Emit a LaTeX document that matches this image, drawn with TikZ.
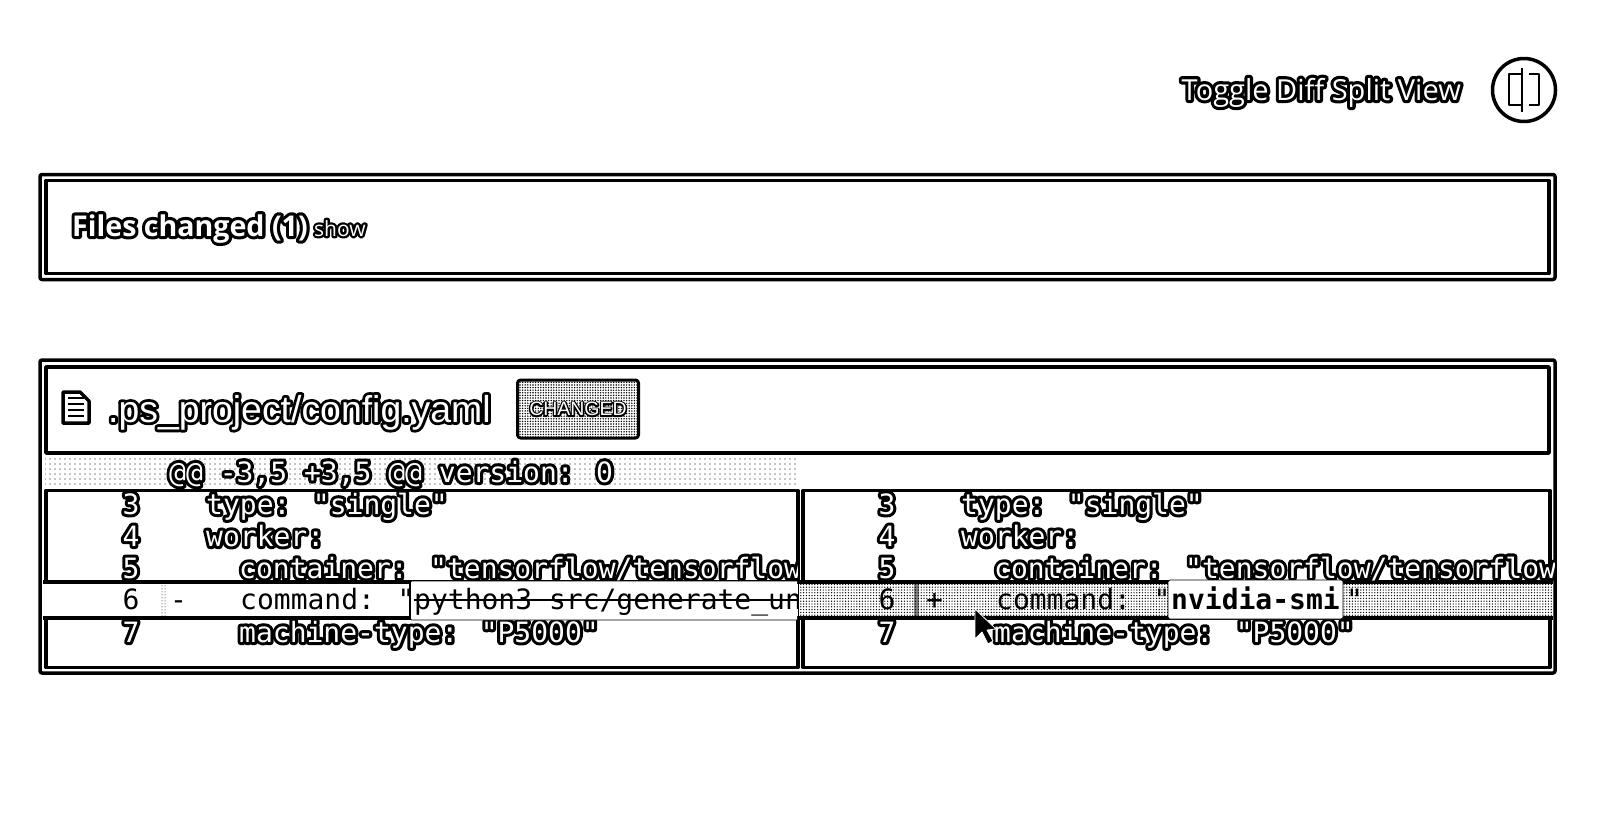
\documentclass[tikz,border=0pt]{standalone}
\usepackage{fontspec}
\usetikzlibrary{patterns.meta,positioning}
\setmainfont{Open Sans}
\newfontfamily\yamlfont{DejaVu Sans Mono}
\newfontfamily\pathfont{Liberation Sans}
\newfontfamily\yamlhalo[FakeBold=22]{DejaVu Sans Mono}
\newfontfamily\pathhalo[FakeBold=15]{Liberation Sans}
\newfontfamily\mainhalo[FakeBold=22]{Open Sans}
\newcommand{\halo}[2]{\makebox[0pt][l]{#1\textcolor{black}{#2}}\textcolor{white}{#2}}
\newcommand{\pxfont}[1]{\fontsize{#1}{#1}\selectfont}

\begin{document}
\begin{tikzpicture}[x=1pt,y=-1pt,line join=round,
    outerbox/.style={rectangle,draw=black,line width=3.5pt,fill=white,rounded corners=2pt,
                     inner sep=0pt,outer sep=0pt},
    innerbox/.style={rectangle,draw=black,line width=3.5pt,inner sep=0pt,outer sep=0pt},
    band/.style={rectangle,draw=none,inner sep=0pt,outer sep=0pt},
    rule/.style={rectangle,fill=black,inner sep=0pt,outer sep=0pt},
    code/.style={font=\yamlfont\pxfont{28},anchor=base west,inner sep=0pt},
    lineno/.style={font=\yamlfont\pxfont{28},anchor=base,inner sep=0pt},
    chip/.style={rectangle,draw=black,line width=.8pt,fill=white,rounded corners=2pt,
                 inner sep=0pt,outer sep=0pt}]

    \useasboundingbox (0,0) rectangle (1610,814);

    % Toggle
    \node[font=\pxfont{29},anchor=base east,inner sep=0pt] (toggleLbl) at (1461,100)
      {\halo{\mainhalo}{Toggle Diff Split View}};
    \node[circle,draw=black,line width=3.5pt,minimum size=63pt,inner sep=0pt] (toggleBtn) at (1524,90) {};
    \draw[line width=1.2pt] (1521,74) -| (1509,105) -- (1521,105);
    \draw[line width=1.2pt] (1529,74) -| (1539,105) -- (1529,105);
    \draw[line width=1.4pt] (toggleBtn.center) ++(-2,-22) -- ++(0,44);

    % Files changed
    \node[outerbox,minimum width=1515pt,minimum height=105pt] (filesOuter) at (797.5,227) {};
    \node[innerbox,minimum width=1503pt,minimum height=93pt] (filesInner) at (filesOuter.center) {};
    \node[font=\bfseries\pxfont{28.6},anchor=base west,inner sep=0pt] (filesLbl) at (72,236)
      {\halo{\mainhalo\bfseries}{Files changed (1)}};
    \node[font=\pxfont{21},inner sep=0pt,right=6pt of filesLbl.base east,anchor=base west] (showLbl)
      {\halo{\mainhalo}{show}};

    % Diff panel
    \node[outerbox,minimum width=1515pt,minimum height=313pt] (diffOuter) at (797.5,516.5) {};
    \node[innerbox,minimum width=1503pt,minimum height=86pt,anchor=north] (headInner) at (797.5,367) {};
    \node[font=\pathfont\pxfont{37.4},anchor=base west,inner sep=0pt] (pathLbl) at (108,422)
      {\halo{\pathhalo}{.ps\_project/config.yaml}};
    \node[rectangle,draw=black,line width=3pt,rounded corners=3pt,minimum width=121pt,minimum height=58pt,
          pattern={Dots[distance=2.6pt,radius=.8pt]},inner sep=0pt] (changedTag) at (578,409) {};
    \node[font=\pathfont\pxfont{19.5},inner sep=0pt] (changedLbl) at (578,409)
      {\halo{\pathhalo}{CHANGED}};

    % file icon
    \draw[line width=3.5pt,fill=white] (63,392) -- (80,392) -- (89,401) -- (89,423) -- (63,423) -- cycle;
    \foreach \y in {398,404,410,416} {
      \draw[line width=2.2pt] (68,\y) -- (84,\y);
    }

    % hunk header
    \node[band,pattern={Dots[distance=5pt,radius=.6pt]},minimum width=753pt,minimum height=29pt] (hunkBand) at (421.5,473) {};
    \node[code] (hunkLbl) at (169,482) {\halo{\yamlhalo}{@@ -3,5 +3,5 @@ version: 0}};

    % panes
    \node[innerbox,minimum width=752pt,minimum height=177pt,anchor=north west] (paneL) at (46,490.5) {};
    \node[innerbox,minimum width=747pt,minimum height=177pt,anchor=north west] (paneR) at (803,490.5) {};

    % row 6 bands
    \node[rule,minimum width=755pt,minimum height=40pt,anchor=north west] (rowLrule) at (43,580) {};
    \node[rule,minimum width=754pt,minimum height=40pt,anchor=north west] (rowRrule) at (799,580) {};
    \node[band,fill=white,minimum width=755pt,minimum height=32pt,anchor=north west] (rowLband) at (43,584) {};
    \node[band,fill=white,minimum width=754pt,minimum height=32pt,anchor=north west] (rowRband) at (799,584) {};
    \node[band,pattern={Dots[distance=2.8pt,radius=.7pt]},minimum width=754pt,minimum height=32pt,anchor=north west] (rowRdots) at (799,584) {};
    \node[band,pattern={Dots[distance=3pt,radius=.5pt]},minimum width=6pt,minimum height=32pt,anchor=north west] (gutterL) at (160,584) {};
    \node[band,pattern={Dots[distance=2pt,radius=.8pt]},minimum width=5pt,minimum height=32pt,anchor=north west] (gutterR) at (914,584) {};

    % left code
    \begin{scope}
      \clip (43,480) rectangle (797,660);
      \foreach \n/\y/\cx/\txt in {3/514/206/{type: "single"},4/546/206/{worker:},
          5/578/239/{container: "tensorflow/tensorflow},7/642/239/{machine-type: "P5000"}} {
        \node[lineno] (numL\n) at (131,\y) {\halo{\yamlhalo}{\n}};
        \node[code] (txtL\n) at (\cx,\y) {\halo{\yamlhalo}{\txt}};
      }
      \node[chip,minimum width=400pt,minimum height=39pt,anchor=north west] (delChip) at (410,581) {};
      \draw[line width=1.6pt] (delChip.north west) -- (delChip.south west);
      \node[lineno] (numL6) at (131,609) {6};
      \node[code] (minusLbl) at (170,609) {-};
      \node[code] (cmdL) at (240,609) {command: "};
      \node[code] (delLbl) at (414,609) {python3 src/generate\_un};
      \draw[line width=1.6pt] (414,600) -- (800,600);
    \end{scope}

    % right code
    \begin{scope}
      \clip (800,480) rectangle (1554,660);
      \foreach \n/\y/\cx/\txt in {3/514/961/{type: "single"},4/546/961/{worker:},
          5/578/994/{container: "tensorflow/tensorflow},7/642/994/{machine-type: "P5000"}} {
        \node[lineno] (numR\n) at (887,\y) {\halo{\yamlhalo}{\n}};
        \node[code] (txtR\n) at (\cx,\y) {\halo{\yamlhalo}{\txt}};
      }
    \end{scope}
    \node[lineno] (numR6) at (887,609) {6};
    \node[code] (plusLbl) at (926,609) {+};
    \node[code] (cmdR) at (996,609) {command: "};
    \node[chip,minimum width=175pt,minimum height=39pt,anchor=north west] (addChip) at (1168,580) {};
    \node[code,font=\yamlfont\bfseries\pxfont{28}] (addLbl) at (1171,609) {nvidia-smi};
    \node[code] (closeQ) at (1346,609) {"};

    % cursor
    \draw[fill=black,draw=white,line width=.8pt] (975,609) -- (975,639) -- (982,632) -- (988,644)
      -- (993,641) -- (987,630) -- (996,629) -- cycle;
  \end{tikzpicture}
\end{document}
